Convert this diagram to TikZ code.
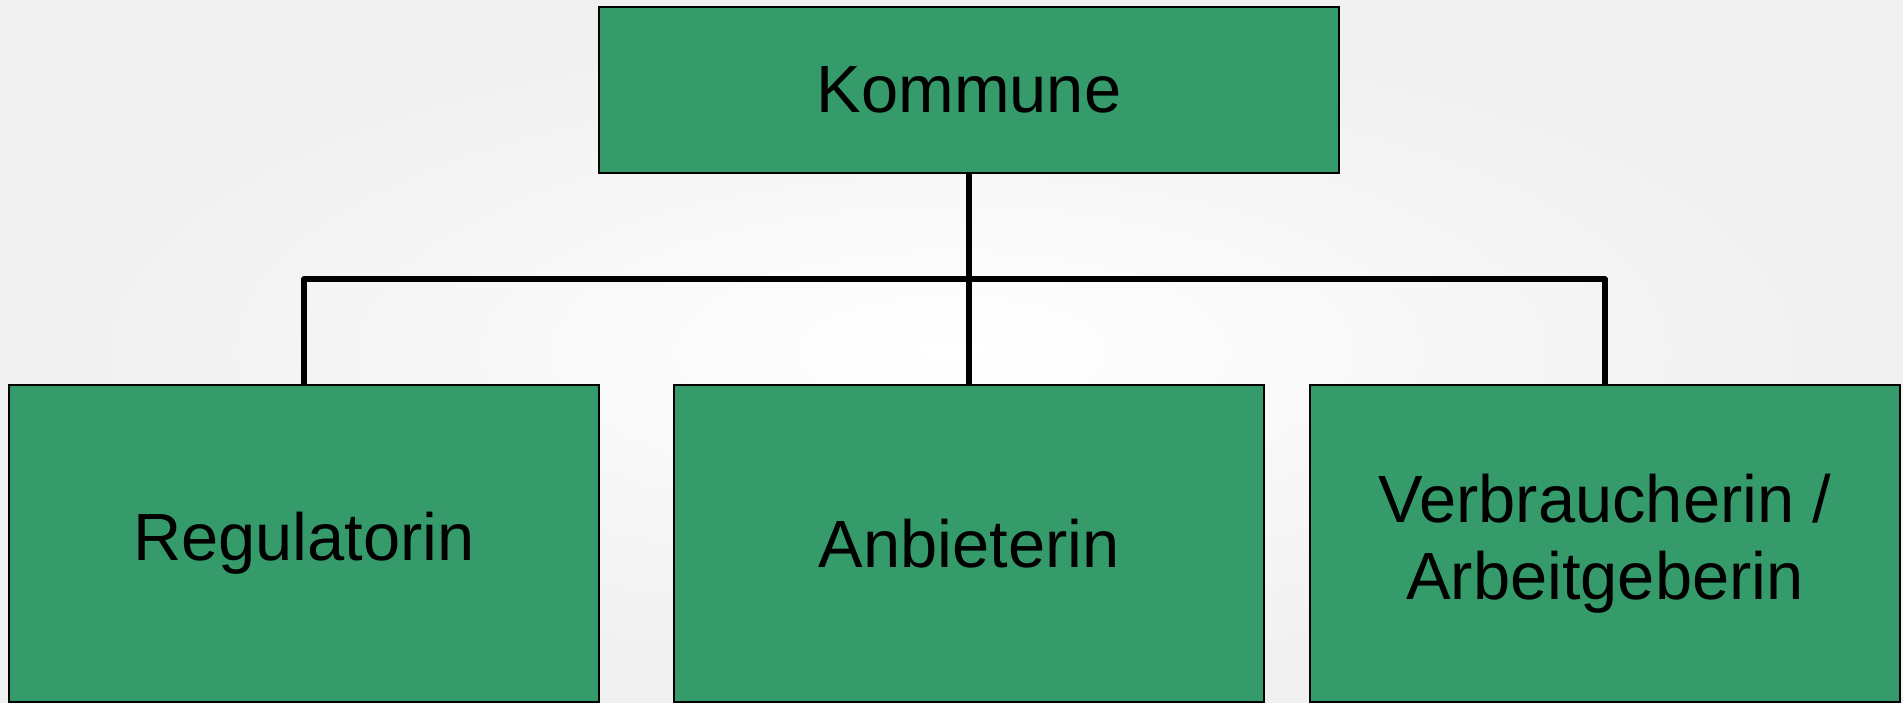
\documentclass[tikz,border=0pt]{standalone}
\usepackage{fontspec}
\setmainfont{Liberation Sans}
\definecolor{boxgreen}{HTML}{359B6B}
\begin{document}
\begin{tikzpicture}[x=0.01cm, y=-0.01cm,
    orgbox/.style={draw=black, line width=0.6pt, fill=boxgreen, outer sep=0pt, inner sep=0pt,
        align=center, font=\fontsize{19}{21.9}\selectfont},
    link/.style={line width=1.6pt, line join=round}]
    \shade[inner color=white, outer color=black!6] (0,0) rectangle (1903,702);
    \useasboundingbox (0,0) rectangle (1903,702);
    \node[orgbox, minimum width=7.40cm, minimum height=1.66cm] (kommune) at (969,90) {Kommune};
    \node[orgbox, minimum width=5.90cm, minimum height=3.17cm] (reg) at (304,543.5) {Regulatorin};
    \node[orgbox, minimum width=5.90cm, minimum height=3.17cm] (anb) at (969,543.5) {Anbieterin};
    \node[orgbox, minimum width=5.90cm, minimum height=3.17cm] (verb) at (1605,543.5) {Verbraucherin /\\Arbeitgeberin};
    \coordinate (bar) at (969,279);
    \draw[link] (kommune.south) -- (anb.north);
    \draw[link] (reg.north) |- (bar) -| (verb.north);
\end{tikzpicture}
\end{document}
